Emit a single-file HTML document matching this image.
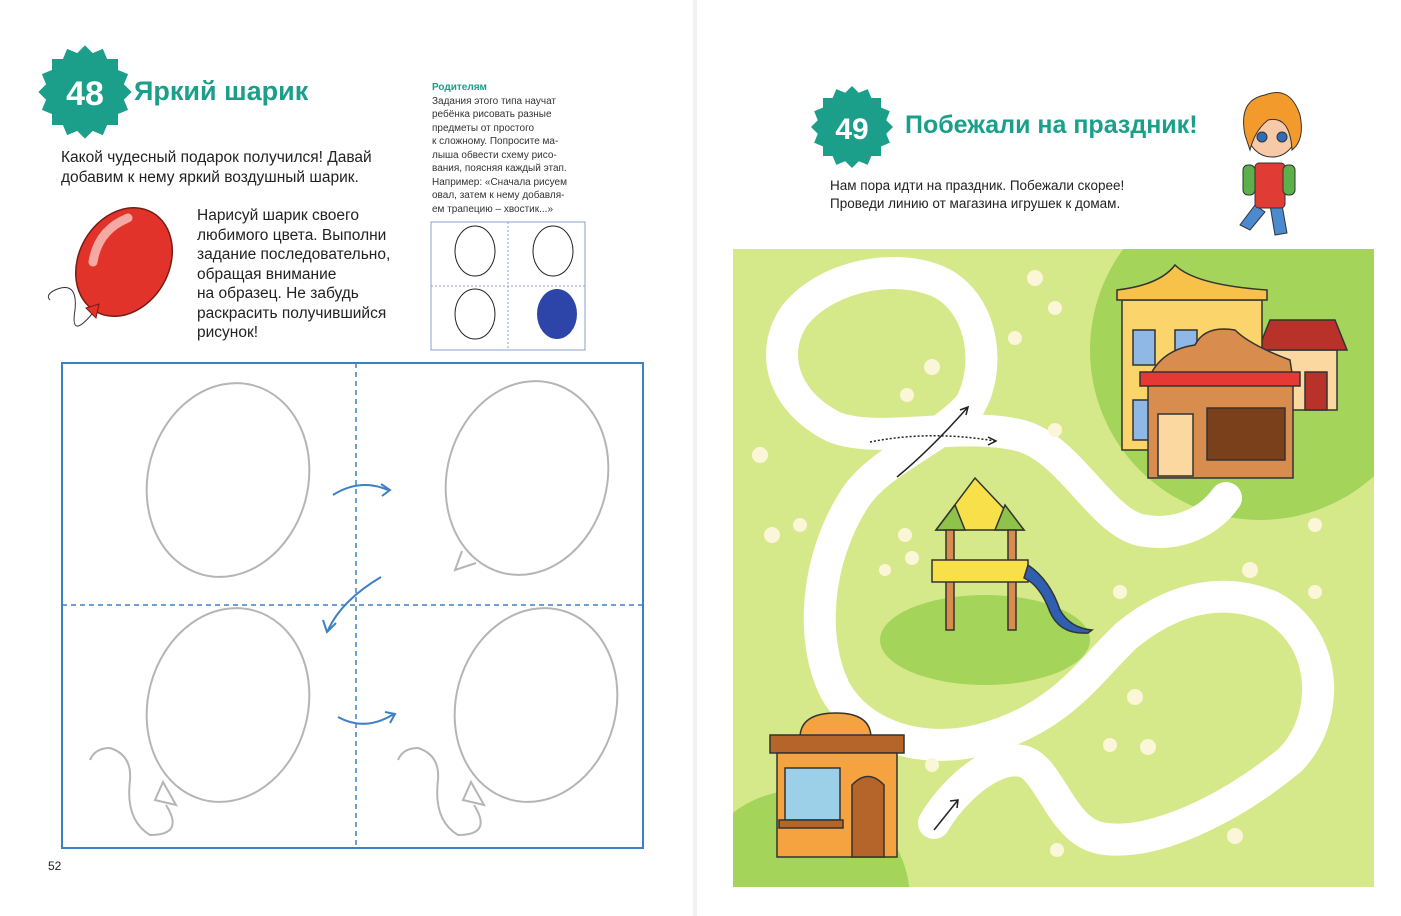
<!DOCTYPE html><html><head><meta charset="utf-8"><style>html,body{margin:0;width:1401px;height:916px;overflow:hidden;background:#fff}svg{display:block}text{font-family:"Liberation Sans",sans-serif}</style></head><body>
<svg width="1401" height="916" viewBox="0 0 1401 916">
<rect width="1401" height="916" fill="#fff"/>
<rect x="693" y="0" width="4" height="916" fill="#f1f1f1"/>
<g transform="translate(85,92)" fill="#1b9f8b">
<rect x="-33" y="-33" width="66" height="66"/><rect x="-33" y="-33" width="66" height="66" transform="rotate(22.5)"/><rect x="-33" y="-33" width="66" height="66" transform="rotate(45)"/><rect x="-33" y="-33" width="66" height="66" transform="rotate(67.5)"/></g>
<text x="85" y="105" font-size="34" font-weight="bold" fill="#fff" text-anchor="middle">48</text>
<text x="134" y="100" font-size="27" font-weight="bold" fill="#1b9f8b">Яркий шарик</text>
<g font-size="15.5" fill="#222"><text x="61" y="162">Какой чудесный подарок получился! Давай</text><text x="61" y="182">добавим к нему яркий воздушный шарик.</text>
<text x="197" y="220">Нарисуй шарик своего</text><text x="197" y="240">любимого цвета. Выполни</text><text x="197" y="259">задание последовательно,</text><text x="197" y="279">обращая внимание</text><text x="197" y="298">на образец. Не забудь</text><text x="197" y="318">раскрасить получившийся</text><text x="197" y="337">рисунок!</text></g>
<g><ellipse cx="124" cy="262" rx="45" ry="57" transform="rotate(30 124 262)" fill="#e2332a" stroke="#7a1a14" stroke-width="1.5"/><path d="M93,262 Q98,230 128,218" stroke="#f5a9a4" stroke-width="9" fill="none" stroke-linecap="round"/><path d="M86,308 L96,318 L99,304Z" fill="#e2332a" stroke="#7a1a14"/><path d="M92,314 Q70,340 75,310 Q78,280 55,290 Q45,295 50,300" stroke="#333" fill="none"/></g>
<text x="432" y="90" font-size="10" font-weight="bold" fill="#1b9f8b">Родителям</text>
<g font-size="10" fill="#333"><text x="432" y="104">Задания этого типа научат</text><text x="432" y="117">ребёнка рисовать разные</text><text x="432" y="131">предметы от простого</text><text x="432" y="144">к сложному. Попросите ма-</text><text x="432" y="158">лыша обвести схему рисо-</text><text x="432" y="171">вания, поясняя каждый этап.</text><text x="432" y="185">Например: «Сначала рисуем</text><text x="432" y="198">овал, затем к нему добавля-</text><text x="432" y="212">ем трапецию – хвостик...»</text></g>
<rect x="431" y="222" width="154" height="128" fill="#fff" stroke="#8aa2c8"/>
<line x1="508" y1="222" x2="508" y2="350" stroke="#8aa2c8" stroke-dasharray="2,2"/><line x1="431" y1="286" x2="585" y2="286" stroke="#8aa2c8" stroke-dasharray="2,2"/>
<g fill="none" stroke="#222"><ellipse cx="475" cy="251" rx="20" ry="25"/><ellipse cx="553" cy="251" rx="20" ry="25"/><ellipse cx="475" cy="314" rx="20" ry="25"/></g>
<ellipse cx="557" cy="314" rx="20" ry="25" fill="#2d44a8"/>
<rect x="62" y="363" width="581" height="485" fill="#fff" stroke="#3e80c4" stroke-width="2"/>
<line x1="356" y1="363" x2="356" y2="848" stroke="#3e80c4" stroke-width="1.5" stroke-dasharray="5,4"/>
<line x1="62" y1="605" x2="643" y2="605" stroke="#3e80c4" stroke-width="1.5" stroke-dasharray="5,4"/>
<g fill="none" stroke="#b5b5b5" stroke-width="2">
<ellipse cx="228" cy="480" rx="80" ry="98" transform="rotate(15 228 480)"/>
<ellipse cx="527" cy="478" rx="80" ry="98" transform="rotate(15 527 478)"/>
<path d="M462,551 L455,570 L476,563"/>
<ellipse cx="228" cy="705" rx="80" ry="98" transform="rotate(15 228 705)"/>
<path d="M163,782 L155,800 L176,805Z"/><path d="M166,805 Q185,835 150,835 Q125,820 130,780 Q132,755 110,748 Q95,748 90,760"/>
<ellipse cx="536" cy="705" rx="80" ry="98" transform="rotate(15 536 705)"/>
<path d="M471,782 L463,800 L484,805Z"/><path d="M474,805 Q493,835 458,835 Q433,820 438,780 Q440,755 418,748 Q403,748 398,760"/>
</g>
<g fill="none" stroke="#3e80c4" stroke-width="2"><path d="M333,495 Q360,478 388,490"/><path d="M381,484 L390,490 L382,496"/><path d="M381,577 Q342,600 328,630"/><path d="M323,620 L327,632 L336,623"/><path d="M338,717 Q365,732 394,714"/><path d="M385,712 L395,714 L390,723"/></g>
<text x="48" y="870" font-size="12" font-family="Liberation Serif" fill="#222">52</text>
<g transform="translate(852,127)" fill="#1b9f8b">
<rect x="-29" y="-29" width="58" height="58"/><rect x="-29" y="-29" width="58" height="58" transform="rotate(22.5)"/><rect x="-29" y="-29" width="58" height="58" transform="rotate(45)"/><rect x="-29" y="-29" width="58" height="58" transform="rotate(67.5)"/></g>
<text x="852" y="139" font-size="30" font-weight="bold" fill="#fff" text-anchor="middle">49</text>
<text x="905" y="133" font-size="25" font-weight="bold" fill="#1b9f8b">Побежали на праздник!</text>
<g font-size="13.5" fill="#222"><text x="830" y="190">Нам пора идти на праздник. Побежали скорее!</text><text x="830" y="208">Проведи линию от магазина игрушек к домам.</text></g>
<g stroke="#333" stroke-width="1"><path d="M1255,205 L1240,225 L1250,230 L1265,212Z M1270,205 L1275,235 L1287,233 L1282,205Z" fill="#4c8ad0"/><rect x="1255" y="163" width="30" height="45" rx="4" fill="#e03b35"/><rect x="1243" y="165" width="12" height="30" rx="5" fill="#5bb04a"/><rect x="1283" y="165" width="12" height="30" rx="5" fill="#5bb04a"/><circle cx="1272" cy="133" r="24" fill="#f7c9a9"/><path d="M1245,135 Q1238,100 1265,95 Q1290,85 1300,115 Q1305,140 1292,150 Q1290,115 1268,120 Q1255,130 1250,150Z" fill="#f39a2c"/><circle cx="1262" cy="137" r="5" fill="#2f6db5"/><circle cx="1282" cy="137" r="5" fill="#2f6db5"/></g>
<clipPath id="m"><rect x="733" y="249" width="641" height="638"/></clipPath>
<g clip-path="url(#m)">
<rect x="733" y="249" width="641" height="638" fill="#d6e98a"/>
<circle cx="1260" cy="350" r="170" fill="#a4d45a"/>
<ellipse cx="985" cy="640" rx="105" ry="45" fill="#a4d45a"/>
<circle cx="800" cy="900" r="110" fill="#a4d45a"/>
<path d="M934,823 C950,795 990,755 1022,761 C1050,767 1060,830 1100,838 C1150,848 1230,810 1290,760 C1330,720 1330,640 1272,607 C1220,585 1170,600 1126,636 C1090,670 1060,720 980,740 C920,755 860,735 835,690 C810,640 815,560 855,498 C880,460 940,440 970,405 C990,370 985,310 945,285 C905,262 830,272 795,315 C770,350 780,400 834,427 C880,445 960,420 1022,436 C1070,450 1100,520 1140,530 C1180,538 1210,520 1226,498" fill="none" stroke="#fff" stroke-width="32" stroke-linecap="round"/>
<g stroke="#222" stroke-width="1.5" fill="none"><path d="M897,477 Q930,450 968,407"/><path d="M960,410 L968,407 L966,415"/><path d="M870,442 Q930,430 995,441" stroke-dasharray="2,2"/><path d="M988,437 L996,441 L988,445"/><path d="M934,830 L958,800"/><path d="M950,801 L958,800 L957,808"/></g>
<g fill="#fbf6d8"><circle cx="1035" cy="278" r="8"/><circle cx="1055" cy="308" r="7"/><circle cx="1015" cy="338" r="7"/><circle cx="932" cy="367" r="8"/><circle cx="907" cy="395" r="7"/><circle cx="1055" cy="430" r="7"/><circle cx="760" cy="455" r="8"/><circle cx="800" cy="525" r="7"/><circle cx="772" cy="535" r="8"/><circle cx="905" cy="535" r="7"/><circle cx="912" cy="558" r="7"/><circle cx="885" cy="570" r="6"/><circle cx="1120" cy="592" r="7"/><circle cx="1250" cy="570" r="8"/><circle cx="1315" cy="592" r="7"/><circle cx="1315" cy="525" r="7"/><circle cx="1135" cy="697" r="8"/><circle cx="1148" cy="747" r="8"/><circle cx="1110" cy="745" r="7"/><circle cx="932" cy="765" r="7"/><circle cx="1057" cy="850" r="7"/><circle cx="1235" cy="836" r="8"/></g>
<g stroke="#333" stroke-width="1.5"><rect x="1262" y="350" width="75" height="60" fill="#fbd8a0"/><path d="M1258,350 L1270,320 L1335,320 L1347,350Z" fill="#b8322a"/><rect x="1305" y="372" width="22" height="38" fill="#b8322a"/>
<rect x="1122" y="300" width="140" height="150" fill="#fbd56c"/><path d="M1117,300 L1117,290 Q1160,285 1175,265 Q1195,285 1267,290 L1267,300Z" fill="#f6c24a"/>
<rect x="1133" y="330" width="22" height="35" fill="#8fb8e6"/><rect x="1175" y="330" width="22" height="35" fill="#8fb8e6"/><rect x="1133" y="400" width="18" height="40" fill="#8fb8e6"/>
<rect x="1148" y="380" width="145" height="98" fill="#d88c4e"/><path d="M1148,380 Q1160,350 1195,345 Q1205,325 1235,330 Q1250,345 1290,360 L1293,380Z" fill="#d88c4e"/><rect x="1140" y="372" width="160" height="14" fill="#e53935"/><rect x="1158" y="414" width="35" height="62" fill="#fbd8a0"/><rect x="1207" y="408" width="78" height="52" fill="#7a3f1b"/></g>
<g stroke="#333" stroke-width="1.5"><path d="M936,530 L975,478 L1024,530Z" fill="#f7e04a"/><path d="M936,530 L955,505 L965,530Z M1024,530 L1005,505 L995,530Z" fill="#8ec24a"/><rect x="946" y="530" width="8" height="100" fill="#d88c4e"/><rect x="1008" y="530" width="8" height="100" fill="#d88c4e"/><rect x="932" y="560" width="96" height="22" fill="#f7e04a"/><path d="M1028,565 Q1050,580 1060,610 Q1070,628 1092,630 L1088,633 Q1060,635 1050,612 Q1040,585 1024,578Z" fill="#2f5fb0"/></g>
<g stroke="#333" stroke-width="1.5"><path d="M800,738 Q800,713 836,713 Q871,713 871,738Z" fill="#f4a340"/><rect x="770" y="735" width="134" height="18" fill="#b5652a"/><rect x="777" y="753" width="120" height="104" fill="#f4a340"/><rect x="785" y="768" width="55" height="52" fill="#9cd0e8"/><path d="M852,857 L852,785 Q868,768 884,785 L884,857Z" fill="#b5652a"/><rect x="779" y="820" width="64" height="8" fill="#b5652a"/></g>
</g>
</svg></body></html>
